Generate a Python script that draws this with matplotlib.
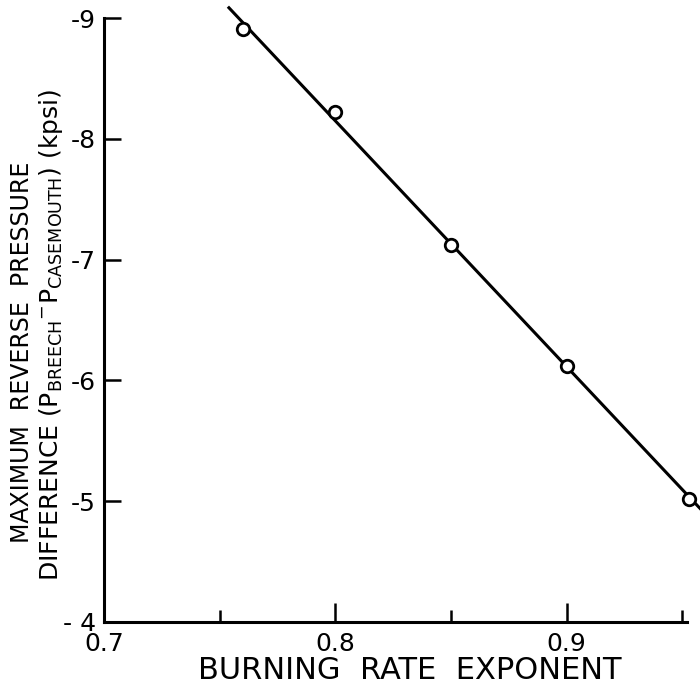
import numpy as np
import matplotlib.pyplot as plt

plt.rcParams['font.family'] = ['DejaVu Sans']
plt.rcParams['mathtext.fontset'] = 'dejavusans'

# data
exponent = [0.76, 0.80, 0.85, 0.90, 0.953]
pressure = [-8.91, -8.22, -7.12, -6.12, -5.02]

x_major = [0.7, 0.8, 0.9]
x_major_labels = ['0.7', '0.8', '0.9']
x_minor = [0.75, 0.85, 0.95]
y_ticks = [-9, -8, -7, -6, -5, -4]
y_labels = ['-9', '-8', '-7', '-6', '-5', '- 4']

fig = plt.figure(figsize=(7, 6.93), dpi=100)
ax = fig.add_axes([0.1486, 0.1025, 0.8328, 0.8715])

# straight line fitted through the points
k, b = np.polyfit(exponent, pressure, 1)
xl = np.array([0.754, 0.965])
ax.plot(xl, k * xl + b, color='black', lw=2.2, zorder=2, clip_on=False)
ax.plot(exponent, pressure, 'o', ms=9, mfc='white', mec='black', mew=2,
        zorder=3, clip_on=False)

ax.set_xlim(0.7, 0.952)
ax.set_ylim(-4, -9)

for s in ['top', 'right']:
    ax.spines[s].set_visible(False)
for s in ['left', 'bottom']:
    ax.spines[s].set_linewidth(2.2)

ax.set_xticks(x_major)
ax.set_xticklabels(x_major_labels)
ax.set_xticks(x_minor, minor=True)
ax.set_yticks(y_ticks)
ax.set_yticklabels(y_labels)
ax.tick_params(axis='x', which='major', direction='in', length=14, width=1.8,
               labelsize=18, pad=7)
ax.tick_params(axis='x', which='minor', direction='in', length=9, width=1.8)
ax.tick_params(axis='y', direction='in', length=12, width=1.8,
               labelsize=18, pad=6)

# axis titles placed by hand (two tight lines on y)
fig.text(0.585, 0.033, 'BURNING  RATE  EXPONENT', fontsize=22,
         ha='center', va='center')
fig.text(29 / 700, 0.492, 'MAXIMUM  REVERSE  PRESSURE', fontsize=17,
         rotation=90, rotation_mode='anchor', ha='center', va='baseline')
fig.text(58 / 700, 0.517,
         r'DIFFERENCE (P$_{\mathsf{BREECH}}$$^{-}$P$_{\mathsf{CASEMOUTH}}$) (kpsi)',
         fontsize=18, rotation=90, rotation_mode='anchor', ha='center',
         va='baseline')

fig.savefig('out.png', dpi=100)
